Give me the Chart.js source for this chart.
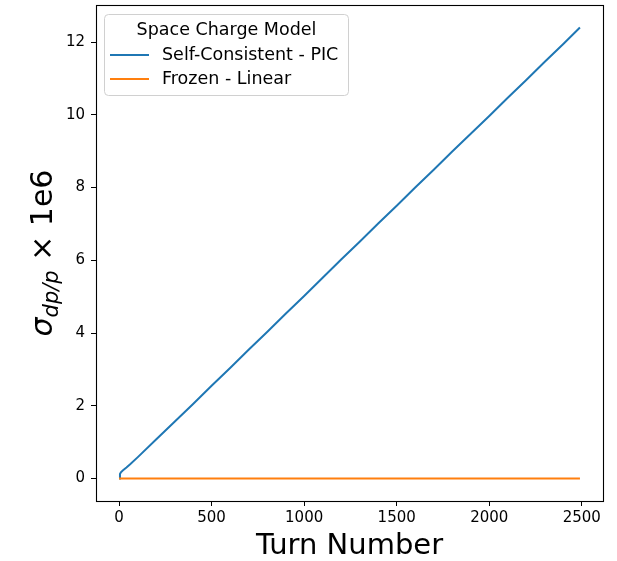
<!DOCTYPE html>
<html>
<head>
<meta charset="utf-8">
<script src="https://cdn.jsdelivr.net/npm/chart.js@4/dist/chart.umd.min.js"></script>
<style>
  html, body { margin: 0; padding: 0; background: #ffffff; }
  #wrap { width: 617px; height: 561px; }
</style>
</head>
<body>
<div id="wrap"><canvas id="c" width="617" height="561"></canvas></div>
<script>
// Turn numbers and momentum-spread growth (sigma_dp/p, in units of 1e-6)
const turns = [0, 5, 10, 20, 40, 60, 100, 200, 300, 400, 500, 600, 700, 800, 900, 1000,
  1100, 1200, 1300, 1400, 1500, 1600, 1700, 1800, 1900, 2000, 2100, 2200, 2300, 2400, 2490];
const selfConsistentPIC = [0, 0.12, 0.17, 0.22, 0.30, 0.39, 0.58, 1.07, 1.56, 2.05, 2.55, 3.04,
  3.54, 4.03, 4.53, 5.02, 5.52, 6.02, 6.51, 7.01, 7.50, 8.00, 8.49, 8.99, 9.48, 9.97, 10.47,
  10.96, 11.46, 11.95, 12.40];
const frozenTurns = [0, 2490];
const frozenLinear = [0, 0];

const seriesLabels = ['Self-Consistent - PIC', 'Frozen - Linear'];
const legendTitle = 'Space Charge Model';
const xTickValues = [0, 500, 1000, 1500, 2000, 2500];
const yTickValues = [0, 2, 4, 6, 8, 10, 12];
const xTitle = 'Turn Number';

const FONT = '"DejaVu Sans", sans-serif';
const BLUE = '#1f77b4';
const ORANGE = '#ff7f0e';

const toPoints = (xs, ys) => xs.map((x, i) => ({ x: x, y: ys[i] }));

// Frame (all four spines), y-axis label with subscript, and the legend box
const decorations = {
  id: 'decorations',
  afterDatasetsDraw(chart) {
    const { ctx, chartArea: a } = chart;
    ctx.save();
    ctx.strokeStyle = '#000000';
    ctx.lineWidth = 1.1;
    ctx.strokeRect(Math.round(a.left) + 0.5, Math.round(a.top) + 0.5,
      Math.round(a.right - a.left), Math.round(a.bottom - a.top));
    ctx.restore();
  },
  afterDraw(chart) {
    const { ctx, chartArea: a } = chart;

    // y-axis label: sigma_{dp/p} x 1e6, rotated
    ctx.save();
    const big = 30, small = 21;
    const parts = [
      { t: '\u03c3', f: 'italic ' + big + 'px ' + FONT, dy: 0 },
      { t: 'dp/p', f: 'italic ' + small + 'px ' + FONT, dy: 6 },
      { t: ' \u00d7 1e6', f: big + 'px ' + FONT, dy: 0 }
    ];
    let total = 0;
    parts.forEach(p => { ctx.font = p.f; p.w = ctx.measureText(p.t).width; total += p.w; });
    const cy = (a.top + a.bottom) / 2;
    ctx.translate(52, cy);
    ctx.rotate(-Math.PI / 2);
    ctx.fillStyle = '#000000';
    ctx.textBaseline = 'alphabetic';
    ctx.textAlign = 'left';
    let x = -total / 2;
    parts.forEach(p => { ctx.font = p.f; ctx.fillText(p.t, x, p.dy); x += p.w; });
    ctx.restore();

    // legend box
    ctx.save();
    const bx = 104.5, by = 14.5, bw = 244, bh = 81, r = 4;
    ctx.beginPath();
    ctx.moveTo(bx + r, by);
    ctx.lineTo(bx + bw - r, by);
    ctx.quadraticCurveTo(bx + bw, by, bx + bw, by + r);
    ctx.lineTo(bx + bw, by + bh - r);
    ctx.quadraticCurveTo(bx + bw, by + bh, bx + bw - r, by + bh);
    ctx.lineTo(bx + r, by + bh);
    ctx.quadraticCurveTo(bx, by + bh, bx, by + bh - r);
    ctx.lineTo(bx, by + r);
    ctx.quadraticCurveTo(bx, by, bx + r, by);
    ctx.closePath();
    ctx.fillStyle = 'rgba(255,255,255,0.8)';
    ctx.fill();
    ctx.strokeStyle = '#d0d0d0';
    ctx.lineWidth = 1;
    ctx.stroke();

    ctx.fillStyle = '#000000';
    ctx.font = '17.5px ' + FONT;
    ctx.textBaseline = 'middle';
    ctx.textAlign = 'center';
    ctx.fillText(legendTitle, bx + bw / 2, 30);

    const rows = [55, 79];
    chart.data.datasets.forEach((ds, i) => {
      const yy = rows[i];
      ctx.strokeStyle = ds.borderColor;
      ctx.lineWidth = 2;
      ctx.beginPath();
      ctx.moveTo(110, yy);
      ctx.lineTo(149, yy);
      ctx.stroke();
      ctx.fillStyle = '#000000';
      ctx.textAlign = 'left';
      ctx.fillText(ds.label, 162, yy);
    });
    ctx.restore();
  }
};

const tickFont = { family: FONT, size: 15 };
const plainTick = v => String(v);

new Chart(document.getElementById('c'), {
  type: 'line',
  data: {
    datasets: [
      {
        label: seriesLabels[0],
        data: toPoints(turns, selfConsistentPIC),
        borderColor: BLUE,
        backgroundColor: BLUE,
        borderWidth: 2,
        pointRadius: 0,
        tension: 0,
        fill: false,
        order: 1
      },
      {
        label: seriesLabels[1],
        data: toPoints(frozenTurns, frozenLinear),
        borderColor: ORANGE,
        backgroundColor: ORANGE,
        borderWidth: 2,
        pointRadius: 0,
        tension: 0,
        fill: false,
        order: 0
      }
    ]
  },
  options: {
    responsive: false,
    devicePixelRatio: 1,
    animation: false,
    layout: { padding: { left: 0, top: 5, right: 14, bottom: 0 } },
    plugins: {
      legend: { display: false },
      tooltip: { enabled: false }
    },
    scales: {
      x: {
        type: 'linear',
        min: -124.5,
        max: 2614.5,
        afterBuildTicks: s => { s.ticks = xTickValues.map(v => ({ value: v })); },
        afterFit: s => { s.height = 60; s.paddingLeft = 0; s.paddingRight = 0; },
        grid: { drawOnChartArea: false, drawTicks: true, tickLength: 5, color: '#000000', lineWidth: 1 },
        border: { display: false },
        ticks: { font: tickFont, color: '#000000', padding: 3, maxRotation: 0, autoSkip: false, callback: plainTick },
        title: {
          display: true,
          text: xTitle,
          font: { family: FONT, size: 29, lineHeight: 1 },
          color: '#000000',
          padding: { top: 0, bottom: 0 }
        }
      },
      y: {
        type: 'linear',
        min: -0.62,
        max: 13.02,
        afterBuildTicks: s => { s.ticks = yTickValues.map(v => ({ value: v })); },
        afterFit: s => { s.width = 96; s.paddingTop = 0; s.paddingBottom = 0; },
        grid: { drawOnChartArea: false, drawTicks: true, tickLength: 5, color: '#000000', lineWidth: 1 },
        border: { display: false },
        ticks: { font: tickFont, color: '#000000', padding: 6, autoSkip: false, callback: plainTick }
      }
    }
  },
  plugins: [decorations]
});
</script>
</body>
</html>
